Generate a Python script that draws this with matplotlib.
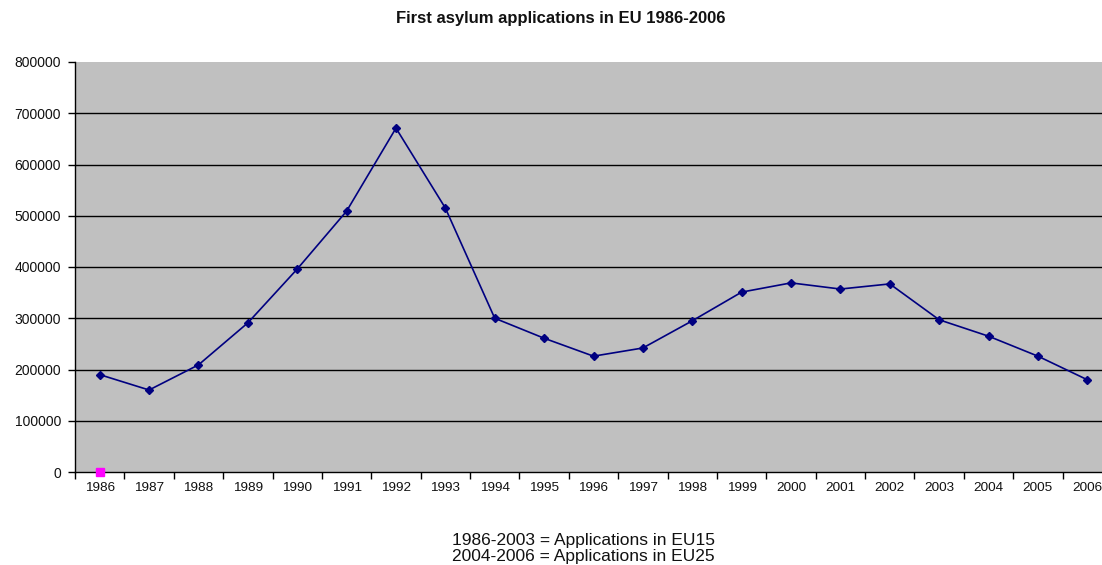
import matplotlib
matplotlib.use("Agg")
import matplotlib.pyplot as plt

plt.rcParams['font.family'] = ['Liberation Sans', 'DejaVu Sans']

years = [str(y) for y in range(1986, 2007)]
applications = [190000, 160000, 209000, 291000, 396000, 509000, 671000,
                515000, 300000, 261000, 226000, 242000, 295000, 351000,
                369000, 357000, 367000, 297000, 265000, 226000, 180000]
marker_series = [0]  # second series: single point at 1986
y_ticks = list(range(0, 800001, 100000))

fig = plt.figure(figsize=(11.02, 5.65), dpi=100)
W, H = 1102, 565
left, right, top, bottom = 75, 1112, 62, 472
ax = fig.add_axes([left / W, 1 - bottom / H, (right - left) / W, (bottom - top) / H])
ax.set_facecolor('#C0C0C0')

x = list(range(len(years)))
ax.plot(x, applications, color='#000080', lw=1.2, marker='D', ms=4.5,
        markerfacecolor='#000080', markeredgecolor='#000080', zorder=3)
ax.plot(x[:len(marker_series)], marker_series, ls='none', marker='s', ms=6,
        color='#FF00FF', zorder=4, clip_on=False)

ax.set_xlim(-0.5, len(years) - 0.5)
ax.set_ylim(0, 800000)
ax.set_yticks(y_ticks)
ax.set_yticklabels([str(v) for v in y_ticks], fontsize=10, color='#111111')
ax.set_xticks(x)
ax.set_xticklabels(years, fontsize=9.7, color='#111111')
ax.tick_params(axis='x', length=0, pad=7)
ax.set_xticks([i - 0.5 for i in range(len(years) + 1)], minor=True)
ax.tick_params(axis='x', which='minor', length=5, width=1, color='black')
ax.tick_params(axis='y', length=5, width=1, color='black', pad=5)

for v in y_ticks[1:-1]:
    ax.axhline(v, color='black', lw=1, zorder=1)

for s in ('top', 'right'):
    ax.spines[s].set_visible(False)
for s in ('left', 'bottom'):
    ax.spines[s].set_color('black')
    ax.spines[s].set_linewidth(1)

fig.text(561 / W, 1 - 19 / H, 'First asylum applications in EU 1986-2006',
         ha='center', va='center', fontsize=12, fontweight='bold', color='#111111')
fig.text(583 / W, 1 - 541 / H, '1986-2003 = Applications in EU15',
         ha='center', va='center', fontsize=12.5, color='#111111')
fig.text(583 / W, 1 - 557 / H, '2004-2006 = Applications in EU25',
         ha='center', va='center', fontsize=12.5, color='#111111')

fig.savefig('out.png', dpi=100, facecolor='white')
